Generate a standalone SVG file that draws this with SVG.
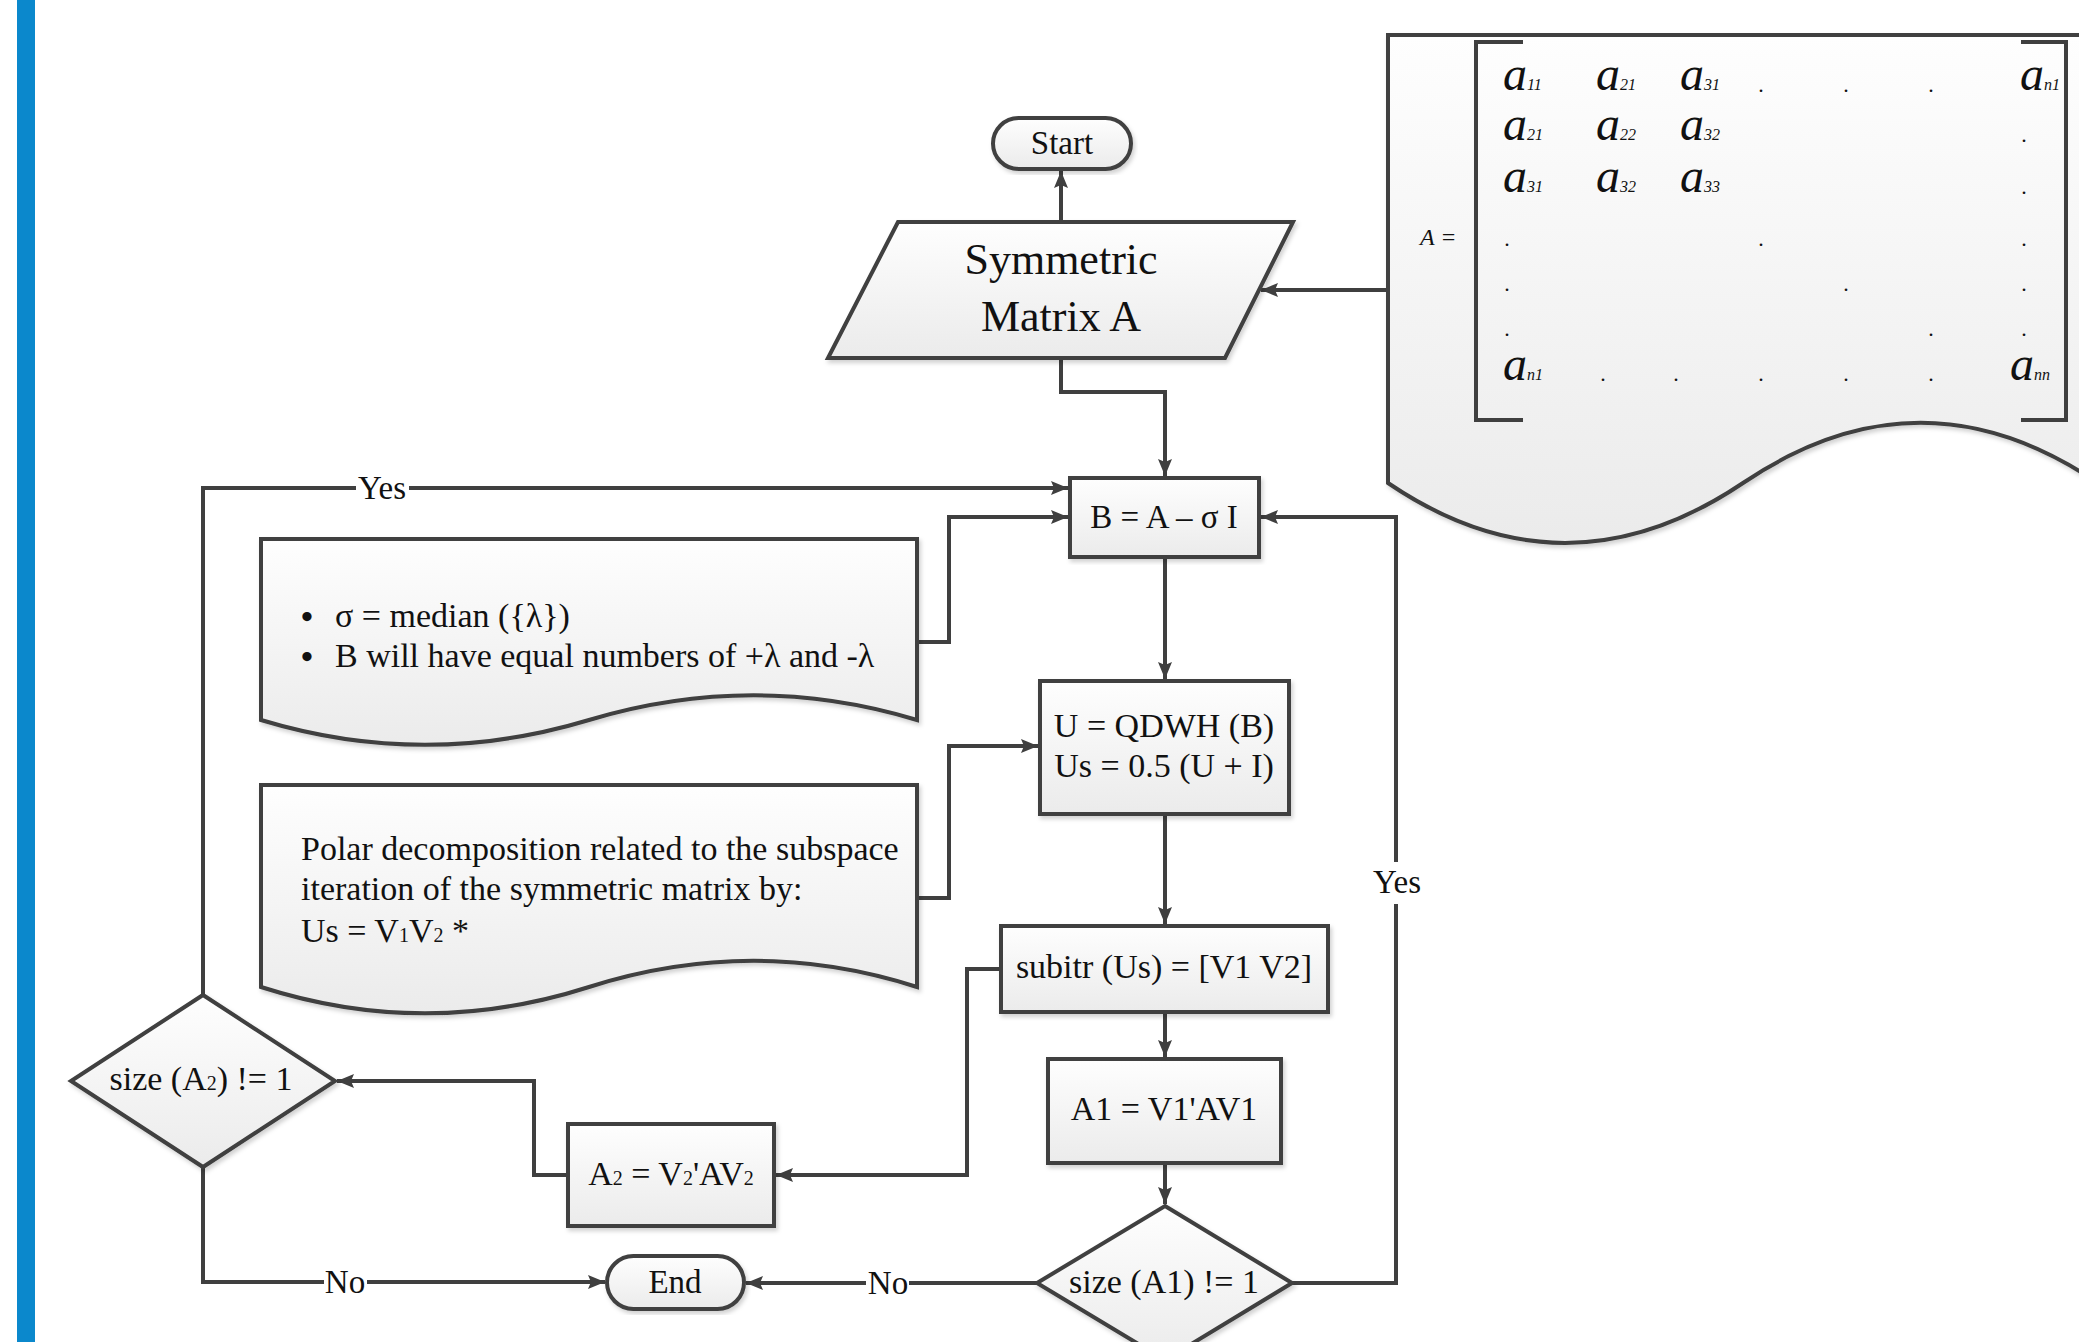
<svg xmlns="http://www.w3.org/2000/svg" width="2079" height="1342" viewBox="0 0 2079 1342" font-size="34">
<defs>
<linearGradient id="g" x1="0" y1="0" x2="0" y2="1">
<stop offset="0" stop-color="#fefefe"/>
<stop offset="1" stop-color="#ebebeb"/>
</linearGradient>
<filter id="sh" x="-5%" y="-5%" width="110%" height="115%">
<feDropShadow dx="2" dy="3" stdDeviation="2" flood-color="#000" flood-opacity="0.18"/>
</filter>
<marker id="ah" markerUnits="userSpaceOnUse" markerWidth="18" markerHeight="16" refX="17" refY="8" orient="auto">
<path d="M0,1 L17,8 L0,15 L3,8 z" fill="#3f3f3f"/>
</marker>
</defs>
<style>
.n{fill:url(#g);stroke:#3f3f3f;stroke-width:4;filter:url(#sh);stroke-linejoin:miter}
.c{fill:none;stroke:#3f3f3f;stroke-width:4;stroke-linejoin:miter}
.a{marker-end:url(#ah)}
text{font-family:"Liberation Serif","Times New Roman",serif;fill:#111}
.m{text-anchor:middle}
.lb{fill:#fff;stroke:none}
.mx{font-style:italic;font-size:48px}
.sb{font-size:16px;font-style:italic}
.dt{font-size:22px;text-anchor:middle}
.bu{font-size:34px;font-weight:bold;text-anchor:middle}
</style>
<rect x="17" y="0" width="18" height="1342" fill="#0b88cc"/>

<g id="connectors">
<path class="c a" d="M1061,222 L1061,171"/>
<path class="c a" d="M1388,290 L1261,290"/>
<path class="c a" d="M1061,358 L1061,392 L1165,392 L1165,476"/>
<path class="c a" d="M917,642 L949,642 L949,517 L1068,517"/>
<path class="c a" d="M1165,557 L1165,679"/>
<path class="c a" d="M917,898 L949,898 L949,746 L1038,746"/>
<path class="c a" d="M1165,814 L1165,924"/>
<path class="c a" d="M1165,1012 L1165,1057"/>
<path class="c a" d="M1165,1163 L1165,1204"/>
<path class="c a" d="M1001,969 L967,969 L967,1175 L776,1175"/>
<path class="c a" d="M568,1175 L534,1175 L534,1081 L337,1081"/>
<path class="c a" d="M203,995 L203,488 L1068,488"/>
<path class="c a" d="M203,1167 L203,1282 L605,1282"/>
<path class="c a" d="M1037,1283 L746,1283"/>
<path class="c a" d="M1292,1283 L1396,1283 L1396,517 L1261,517"/>
<rect class="lb" x="356" y="470" width="53" height="36"/>
<text class="m" x="382" y="499" font-size="33">Yes</text>
<rect class="lb" x="324" y="1264" width="43" height="36"/>
<text class="m" x="345" y="1293" font-size="33">No</text>
<rect class="lb" x="866" y="1265" width="43" height="36"/>
<text class="m" x="888" y="1294" font-size="33">No</text>
<rect class="lb" x="1370" y="862" width="54" height="42"/>
<text class="m" x="1397" y="893" font-size="33">Yes</text>
</g>

<g id="matrix">
<path class="n" d="M2100,35 L1388,35 L1388,483 C1506,563 1624,563 1743,483 C1861,403 1980,403 2098,483 L2100,483"/>
<path class="c" d="M1523,42 L1476,42 L1476,420 L1523,420 M2021,42 L2066,42 L2066,420 L2021,420" stroke-width="2.5"/>
<text x="1420" y="245" font-size="24" font-style="italic">A =</text>
<text class="mx" x="1503" y="90">a<tspan class="sb">11</tspan></text>
<text class="mx" x="1596" y="90">a<tspan class="sb">21</tspan></text>
<text class="mx" x="1680" y="90">a<tspan class="sb">31</tspan></text>
<text class="mx" x="2020" y="90">a<tspan class="sb">n1</tspan></text>
<text class="mx" x="1503" y="140">a<tspan class="sb">21</tspan></text>
<text class="mx" x="1596" y="140">a<tspan class="sb">22</tspan></text>
<text class="mx" x="1680" y="140">a<tspan class="sb">32</tspan></text>
<text class="mx" x="1503" y="192">a<tspan class="sb">31</tspan></text>
<text class="mx" x="1596" y="192">a<tspan class="sb">32</tspan></text>
<text class="mx" x="1680" y="192">a<tspan class="sb">33</tspan></text>
<text class="mx" x="1503" y="380">a<tspan class="sb">n1</tspan></text>
<text class="mx" x="2010" y="380">a<tspan class="sb">nn</tspan></text>
<text class="dt" x="1761" y="92">.</text>
<text class="dt" x="1846" y="92">.</text>
<text class="dt" x="1931" y="92">.</text>
<text class="dt" x="2024" y="142">.</text>
<text class="dt" x="2024" y="194">.</text>
<text class="dt" x="1507" y="246">.</text>
<text class="dt" x="1761" y="246">.</text>
<text class="dt" x="2024" y="246">.</text>
<text class="dt" x="1507" y="291">.</text>
<text class="dt" x="1846" y="291">.</text>
<text class="dt" x="2024" y="291">.</text>
<text class="dt" x="1507" y="336">.</text>
<text class="dt" x="1931" y="336">.</text>
<text class="dt" x="2024" y="336">.</text>
<text class="dt" x="1603" y="381">.</text>
<text class="dt" x="1676" y="381">.</text>
<text class="dt" x="1761" y="381">.</text>
<text class="dt" x="1846" y="381">.</text>
<text class="dt" x="1931" y="381">.</text>
</g>

<g id="start">
<rect class="n" x="993" y="118" width="138" height="51" rx="25.5"/>
<text class="m" x="1062" y="154" font-size="33">Start</text>
</g>

<g id="input">
<path class="n" d="M898,222 L1293,222 L1225,358 L828,358 z"/>
<text class="m" x="1061" y="274" font-size="44">Symmetric</text>
<text class="m" x="1061" y="331" font-size="44">Matrix A</text>
</g>

<g id="shift">
<rect class="n" x="1070" y="478" width="189" height="79"/>
<text class="m" x="1164" y="528" font-size="33">B = A – σ I</text>
</g>

<g id="note-sigma">
<path class="n" d="M261,539 L917,539 L917,720 C808,687 699,687 589,720 C480,753 370,753 261,720 z"/>
<text class="bu" x="307" y="628">•</text>
<text x="335" y="627">σ = median ({λ})</text>
<text class="bu" x="307" y="668">•</text>
<text x="335" y="667">B will have equal numbers of +λ and -λ</text>
</g>

<g id="qdwh">
<rect class="n" x="1040" y="681" width="249" height="133"/>
<text class="m" x="1164" y="737">U = QDWH (B)</text>
<text class="m" x="1164" y="777">Us = 0.5 (U + I)</text>
</g>

<g id="note-polar">
<path class="n" d="M261,785 L917,785 L917,987 C808,952 699,952 589,987 C480,1022 370,1022 261,987 z"/>
<text x="301" y="860">Polar decomposition related to the subspace</text>
<text x="301" y="900">iteration of the symmetric matrix by:</text>
<text x="301" y="942">Us = V<tspan font-size="20">1</tspan>V<tspan font-size="20">2</tspan> *</text>
</g>

<g id="subitr">
<rect class="n" x="1001" y="926" width="327" height="86"/>
<text class="m" x="1164" y="978">subitr (Us) = [V1 V2]</text>
</g>

<g id="a1">
<rect class="n" x="1048" y="1059" width="233" height="104"/>
<text class="m" x="1164" y="1120">A1 = V1'AV1</text>
</g>

<g id="dec-a1">
<path class="n" d="M1165,1206 L1292,1283 L1165,1360 L1037,1283 z"/>
<text class="m" x="1164" y="1293">size (A1) != 1</text>
</g>

<g id="a2">
<rect class="n" x="568" y="1124" width="206" height="102"/>
<text class="m" x="671" y="1185">A<tspan font-size="20">2</tspan> = V<tspan font-size="20">2</tspan>'AV<tspan font-size="20">2</tspan></text>
</g>

<g id="dec-a2">
<path class="n" d="M203,995 L335,1081 L203,1167 L71,1081 z"/>
<text class="m" x="201" y="1090">size (A<tspan font-size="20">2</tspan>) != 1</text>
</g>

<g id="end">
<rect class="n" x="607" y="1256" width="137" height="53" rx="26.5"/>
<text class="m" x="675" y="1293" font-size="33">End</text>
</g>
</svg>
